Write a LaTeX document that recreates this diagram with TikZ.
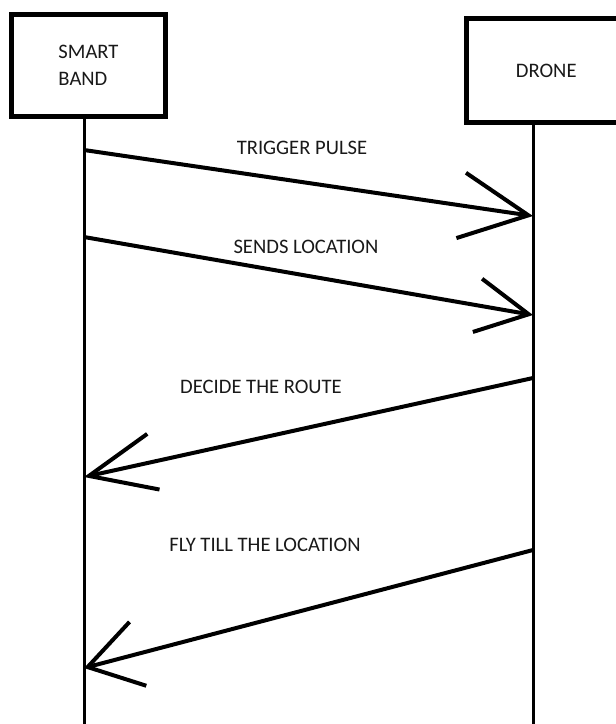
\documentclass[tikz,border=0pt]{standalone}
\usepackage{fontspec}
\setmainfont{Carlito}
\usetikzlibrary{arrows.meta}

\begin{document}
\begin{tikzpicture}[x=0.5pt, y=-0.5pt,
  actor/.style={draw, line width=2.5pt, align=left, inner sep=0pt,
                font=\fontsize{10.3}{13.5}\selectfont, text=black!90},
  life/.style={line width=1.5pt},
  msg/.style={line width=2pt},
  lbl/.style={font=\fontsize{10.3}{12}\selectfont, text=black!90}]
\useasboundingbox (0,0) rectangle (616,724);
\clip (0,0) rectangle (616,724);
\node[actor, minimum width=77.25pt, minimum height=51.25pt] (band) at (88.5,65.5) {SMART\\BAND};
\node[actor, minimum width=80pt, minimum height=52.4pt] (drone) at (546.25,70.4) {DRONE};
\coordinate (bandend) at (84,724);
\coordinate (droneend) at (533,724);
\draw[life] (band.south -| bandend) -- (bandend);
\draw[life] (drone.south -| droneend) -- (droneend);
% messages
\coordinate (b1) at (84,150);  \coordinate (d1) at (533,216);
\coordinate (b2) at (84,237);  \coordinate (d2) at (533,315);
\coordinate (d3) at (533,378); \coordinate (b3) at (84,477);
\coordinate (d4) at (533,550); \coordinate (b4) at (84,668);
\draw[msg, -{Straight Barb[length=34pt, width=33pt]}] (b1) -- (d1);
\draw[msg, -{Straight Barb[length=26pt, width=27pt]}] (b2) -- (d2);
\draw[msg, -{Straight Barb[length=33pt, width=28.5pt]}] (d3) -- (b3);
\draw[msg, -{Straight Barb[length=26pt, width=33pt]}] (d4) -- (b4);
\node[lbl] (trig) at (302,148) {TRIGGER PULSE};
\node[lbl] (sends) at (306,247) {SENDS LOCATION};
\node[lbl] (route) at (261,387) {DECIDE THE ROUTE};
\node[lbl] (fly) at (265,545) {FLY TILL THE LOCATION};
\end{tikzpicture}
\end{document}
